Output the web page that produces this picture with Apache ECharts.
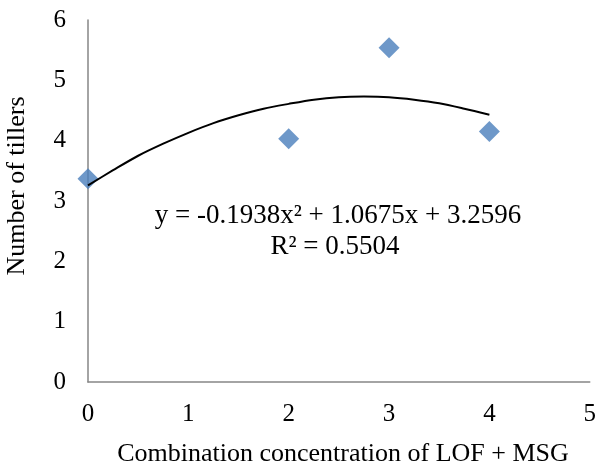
<!DOCTYPE html>
<html>
<head>
<meta charset="utf-8">
<script src="https://cdn.jsdelivr.net/npm/echarts@6/dist/echarts.min.js"></script>
<style>
  html, body { margin: 0; padding: 0; background: #fff; }
  #chart { width: 599px; height: 466px; }
</style>
</head>
<body>
<div id="chart"></div>
<script>
// measured points (concentration, tillers)
var concentration = [0, 2, 3, 4];
var tillers = [3.37, 4.03, 5.54, 4.15];

// trendline
var trendX = [0, 0.25, 0.5, 0.75, 1, 1.25, 1.5, 1.75, 2, 2.25, 2.5, 2.75, 3, 3.25, 3.5, 3.75, 4];
var trendY = [3.26, 3.51, 3.75, 3.95, 4.13, 4.29, 4.42, 4.53, 4.61, 4.68, 4.72, 4.73, 4.72, 4.68, 4.62, 4.53, 4.43];

var xTicks = ['0', '1', '2', '3', '4', '5'];
var yTicks = ['0', '1', '2', '3', '4', '5', '6'];

var equationText = 'y = -0.1938x² + 1.0675x + 3.2596';
var r2Text = 'R² = 0.5504';

var font = '"Liberation Serif", "Times New Roman", serif';

var pointData = concentration.map(function (x, i) { return [x, tillers[i]]; });
var trendData = trendX.map(function (x, i) { return [x, trendY[i]]; });

var chart = echarts.init(document.getElementById('chart'));
chart.setOption({
  animation: false,
  backgroundColor: '#fff',
  grid: { left: 88, right: 7, top: 20, bottom: 84 },
  xAxis: {
    type: 'value',
    min: 0, max: 5, interval: 1,
    axisLine: { show: true, lineStyle: { color: '#868686', width: 1.5 } },
    axisTick: { show: false },
    splitLine: { show: false },
    axisLabel: {
      margin: 20, fontSize: 25, fontFamily: font, color: '#000',
      formatter: function (v) { return xTicks[v]; }
    }
  },
  yAxis: {
    type: 'value',
    min: 0, max: 6, interval: 1,
    axisLine: { show: true, lineStyle: { color: '#868686', width: 1.5 } },
    axisTick: { show: false },
    splitLine: { show: false },
    axisLabel: {
      margin: 22, fontSize: 25, fontFamily: font, color: '#000',
      formatter: function (v) { return yTicks[v]; }
    }
  },
  series: [
    {
      type: 'scatter',
      data: pointData,
      symbol: 'diamond',
      symbolSize: 21,
      itemStyle: { color: '#4a7ebb' },
      z: 2
    },
    {
      type: 'line',
      data: trendData,
      smooth: 0.3,
      showSymbol: false,
      lineStyle: { color: '#000', width: 2 },
      z: 3
    }
  ],
  graphic: [
    {
      type: 'text', x: 338, y: 216,
      style: { text: equationText, font: '27px ' + font, fill: '#000', align: 'center', verticalAlign: 'middle' }
    },
    {
      type: 'text', x: 335, y: 247,
      style: { text: r2Text, font: '27px ' + font, fill: '#000', align: 'center', verticalAlign: 'middle' }
    },
    {
      type: 'text', x: 17, y: 186, rotation: Math.PI / 2,
      style: { text: 'Number of tillers', font: '26px ' + font, fill: '#000', align: 'center', verticalAlign: 'middle' }
    },
    {
      type: 'text', x: 343, y: 454,
      style: { text: 'Combination concentration of LOF + MSG', font: '26px ' + font, fill: '#000', align: 'center', verticalAlign: 'middle' }
    }
  ]
});
</script>
</body>
</html>
